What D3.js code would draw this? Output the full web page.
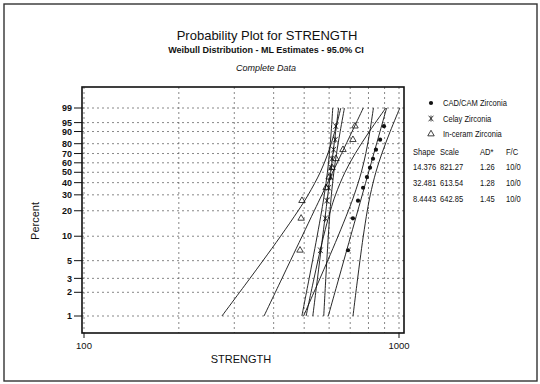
<!DOCTYPE html>
<html>
<head>
<meta charset="utf-8">
<script src="https://cdn.jsdelivr.net/npm/d3@7"></script>
<style>
  body { margin: 0; background: #fff; }
  text { font-family: Arial, "Liberation Sans", sans-serif; fill: #111; }
</style>
</head>
<body>
<svg id="chart"></svg>
<script>
// ---- data ----
const yTicks = [1, 2, 3, 5, 10, 20, 30, 40, 50, 60, 70, 80, 90, 95, 99];
const xGrid = [100, 200, 300, 400, 500, 600, 700, 800, 900, 1000];
const xLabels = [100, 1000];

// percent levels where the fitted lines / CI bands were read
const levels = [1, 2, 3, 5, 10, 20, 30, 50, 70, 90, 99];

const cadFit   = [596.4, 626.0, 644.2, 668.0, 702.3, 739.9, 764.5, 800.6, 832.0, 870.4, 913.4];
const cadLow   = [497.8, 537.0, 561.4, 593.7, 640.4, 690.4, 720.9, 759.2, 784.5, 808.1, 829.4];
const cadHigh  = [714.5, 729.7, 739.2, 751.6, 770.2, 793.0, 810.8, 844.2, 882.3, 937.5, 1005.9];

const celayFit  = [532.6, 544.1, 551.1, 560.0, 572.5, 585.9, 594.4, 606.7, 617.1, 629.5, 643.1];
const celayLow  = [491.7, 508.4, 518.6, 531.5, 549.6, 568.2, 579.2, 592.6, 601.3, 609.2, 616.2];
const celayHigh = [576.9, 582.3, 585.6, 590.0, 596.4, 604.1, 610.0, 621.1, 633.3, 650.5, 671.1];

const inFit  = [372.9, 405.0, 425.2, 452.2, 492.5, 538.2, 569.0, 615.6, 657.2, 709.6, 770.3];
const inLow  = [274.1, 311.9, 336.4, 370.0, 420.8, 478.4, 514.9, 562.3, 594.7, 625.3, 653.5];
const inHigh = [507.1, 525.7, 537.4, 552.7, 576.2, 605.6, 628.7, 673.7, 726.1, 805.1, 907.8];

// plotting positions (percent) of the 10 ordered failures
const ranks = [6.73, 16.35, 25.96, 35.58, 45.19, 54.81, 64.42, 74.04, 83.65, 93.27];

const cadStrength    = [689, 714, 741, 769, 791, 809, 827, 845, 871, 896];
const celayStrength  = [563, 584, 590, 598, 606, 609, 612, 620, 628, 630];
const inStrength     = [485, 489, 492, 587, 600, 613, 631, 664, 714, 725];

const seriesNames = ['CAD/CAM Zirconia', 'Celay Zirconia', 'In-ceram Zirconia'];
const tableHeader = ['Shape', 'Scale', 'AD*', 'F/C'];
const tableRows = [
  ['14.376', '821.27', '1.26', '10/0'],
  ['32.481', '613.54', '1.28', '10/0'],
  ['8.4443', '642.85', '1.45', '10/0']
];

// ---- layout ----
const W = 540, H = 384;
const plot = { left: 82, right: 404, top: 87, bottom: 333 };

const svg = d3.select('#chart').attr('width', W).attr('height', H);

// outer frame
svg.append('rect')
  .attr('x', 4).attr('y', 4).attr('width', 533).attr('height', 377)
  .attr('fill', 'none').attr('stroke', '#333').attr('stroke-width', 1.4);

// Weibull probability transform
const wb = p => Math.log(-Math.log(1 - p / 100));

const x = d3.scaleLog().domain([100, 1000]).range([84, 399]);
const y = d3.scaleLinear().domain([wb(1), wb(99)]).range([316, 108]);

const grid = svg.append('g');

// horizontal grid
grid.selectAll('line.h').data(yTicks).join('line')
  .attr('x1', plot.left).attr('x2', plot.right)
  .attr('y1', d => y(wb(d))).attr('y2', d => y(wb(d)))
  .attr('stroke', '#555').attr('stroke-width', 0.7).attr('stroke-dasharray', '2,3');

// vertical grid
grid.selectAll('line.v').data(xGrid).join('line')
  .attr('x1', d => x(d)).attr('x2', d => x(d))
  .attr('y1', plot.top).attr('y2', plot.bottom)
  .attr('stroke', '#555').attr('stroke-width', 0.7).attr('stroke-dasharray', '2,3');

// y ticks + labels
const yAxisG = svg.append('g');
yAxisG.selectAll('line').data(yTicks).join('line')
  .attr('x1', plot.left - 8).attr('x2', plot.left)
  .attr('y1', d => y(wb(d))).attr('y2', d => y(wb(d)))
  .attr('stroke', '#111').attr('stroke-width', 1);
yAxisG.selectAll('text').data(yTicks).join('text')
  .attr('x', plot.left - 10).attr('y', d => y(wb(d)) + 3.2)
  .attr('text-anchor', 'end').style('font-size', '9px').style('font-weight', 'bold')
  .text(d => d);

// x ticks + labels
const xAxisG = svg.append('g');
xAxisG.selectAll('line').data(xLabels).join('line')
  .attr('x1', d => x(d)).attr('x2', d => x(d))
  .attr('y1', plot.bottom).attr('y2', plot.bottom + 5)
  .attr('stroke', '#111').attr('stroke-width', 1);
xAxisG.selectAll('text').data(xLabels).join('text')
  .attr('x', d => x(d)).attr('y', plot.bottom + 16)
  .attr('text-anchor', 'middle').style('font-size', '9.5px')
  .text(d => d);

// curves
const line = d3.line()
  .x(d => x(d[1]))
  .y(d => y(wb(d[0])))
  .curve(d3.curveCatmullRom);

const curves = [cadFit, cadLow, cadHigh, celayFit, celayLow, celayHigh, inFit, inLow, inHigh];
svg.append('g').selectAll('path').data(curves).join('path')
  .attr('d', c => line(levels.map((p, i) => [p, c[i]])))
  .attr('fill', 'none').attr('stroke', '#111').attr('stroke-width', 0.9);

// markers
function drawMarker(sel, kind) {
  if (kind === 0) {
    sel.append('circle').attr('r', 2.1).attr('fill', '#111');
  } else if (kind === 1) {
    sel.append('path')
      .attr('d', 'M-2.4,-2.8L2.4,2.8M2.4,-2.8L-2.4,2.8M0,-3V3')
      .attr('fill', 'none').attr('stroke', '#111').attr('stroke-width', 0.8);
  } else {
    sel.append('path')
      .attr('d', d3.symbol(d3.symbolTriangle, 18)())
      .attr('fill', 'none').attr('stroke', '#111').attr('stroke-width', 0.8);
  }
}

[cadStrength, celayStrength, inStrength].forEach((vals, k) => {
  const pts = vals.map((v, i) => [ranks[i], v]);
  svg.append('g').selectAll('g').data(pts).join('g')
    .attr('transform', d => `translate(${x(d[1])},${y(wb(d[0]))})`)
    .call(s => drawMarker(s, k));
});

// plot frame
svg.append('rect')
  .attr('x', plot.left).attr('y', plot.top)
  .attr('width', plot.right - plot.left).attr('height', plot.bottom - plot.top)
  .attr('fill', 'none').attr('stroke', '#111').attr('stroke-width', 1.6);

// titles
svg.append('text').attr('x', 267).attr('y', 40).attr('text-anchor', 'middle')
  .style('font-size', '13px').text('Probability Plot for STRENGTH');
svg.append('text').attr('x', 266).attr('y', 53).attr('text-anchor', 'middle')
  .style('font-size', '9px').style('font-weight', 'bold')
  .text('Weibull Distribution - ML Estimates - 95.0% CI');
svg.append('text').attr('x', 266).attr('y', 71).attr('text-anchor', 'middle')
  .style('font-size', '9px').style('font-style', 'italic')
  .text('Complete Data');

// axis titles
svg.append('text').attr('x', 241).attr('y', 363).attr('text-anchor', 'middle')
  .style('font-size', '11px').text('STRENGTH');
svg.append('text').attr('transform', 'translate(39,221) rotate(-90)')
  .attr('text-anchor', 'middle').style('font-size', '11px').text('Percent');

// squeeze legend/table text a bit, like the condensed font in the original
function condense(sel) {
  sel.each(function () {
    const w = this.getComputedTextLength();
    d3.select(this).attr('textLength', w * 0.84).attr('lengthAdjust', 'spacingAndGlyphs');
  });
}

// legend
const legend = svg.append('g');
seriesNames.forEach((name, k) => {
  const ly = 103 + k * 15.5;
  legend.append('g').attr('transform', `translate(431,${ly})`).call(s => drawMarker(s, k));
  legend.append('text').attr('x', 443).attr('y', ly + 3)
    .style('font-size', '9px').text(name).call(condense);
});

// stats table
const colX = [413, 440, 480, 506];
tableHeader.forEach((h, j) => {
  legend.append('text').attr('x', colX[j]).attr('y', 155)
    .style('font-size', '9px').text(h).call(condense);
});
tableRows.forEach((row, i) => {
  row.forEach((v, j) => {
    legend.append('text').attr('x', colX[j]).attr('y', 170 + i * 16)
      .style('font-size', '9px').text(v).call(condense);
  });
});
</script>
</body>
</html>
